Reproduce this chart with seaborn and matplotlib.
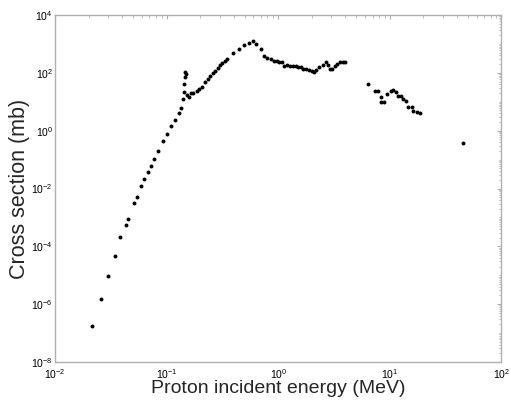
import numpy as np
import pandas as pd
import matplotlib
matplotlib.use("Agg")
import matplotlib.pyplot as plt
import seaborn as sns
from matplotlib.ticker import LogLocator, FixedLocator, NullFormatter, LogFormatterSciNotation

# Data (MeV, mb)
energy = [0.0216, 0.0258, 0.0300, 0.0343, 0.0385, 0.0430, 0.0451, 0.0510, 0.0543, 0.0592,
          0.0631, 0.0677, 0.0725, 0.0776, 0.0837, 0.0928, 0.1015, 0.1102, 0.1197, 0.1291,
          0.1354, 0.1388, 0.1423, 0.1441, 0.1462, 0.1483, 0.1462,
          0.1533, 0.1588, 0.1644, 0.1734, 0.1853, 0.1951, 0.2055, 0.2209, 0.2335, 0.2448,
          0.2588, 0.2715, 0.2871, 0.3010, 0.3155, 0.3337, 0.3499, 0.3960, 0.4454, 0.4968,
          0.5475, 0.5980, 0.6365, 0.6967, 0.7460, 0.7987, 0.8565, 0.9077, 0.9656, 1.017,
          1.075, 1.127, 1.187, 1.263, 1.349, 1.429, 1.514, 1.594, 1.679, 1.775, 1.877,
          1.988, 2.072, 2.182, 2.335, 2.505, 2.654, 2.766, 2.912, 3.053, 3.208, 3.385,
          3.579, 3.784, 3.928,
          6.42, 7.37, 7.89, 8.29, 8.29, 8.87, 9.50, 10.19, 10.57, 11.32, 11.85, 12.52,
          13.13, 13.91, 14.41, 15.71, 16.24, 17.42, 18.77, 45.6]
cross_section = [1.81e-7, 1.48e-6, 9.67e-6, 4.75e-5, 2.06e-4, 5.48e-4, 8.63e-4, 3.16e-3, 4.97e-3, 0.01253,
                 0.0205, 0.0364, 0.0615, 0.1074, 0.198, 0.440, 0.787, 1.486, 2.34, 4.19,
                 6.23, 11.97, 22.3, 41.1, 70.1, 87.6, 104.4,
                 17.1, 14.6, 19.3, 20.6, 23.6, 27.6, 33.2, 48.2, 61.2, 77.8,
                 96.4, 118.6, 150.6, 182.3, 213.8, 256.6, 294, 474, 667, 918,
                 1102, 1262, 994, 667, 391, 334, 296, 267, 247, 237,
                 243, 172.5, 179.5, 172.5, 176.6, 169.8, 163, 153, 141, 130.4, 122.4,
                 113, 106.9, 125.4, 155.5, 191, 228, 179.5, 135.8, 141, 172.5, 207,
                 231, 237, 228,
                 39.5, 24.1, 24.1, 14.26, 9.97, 9.97, 18.5, 23.0, 26.5, 22.3, 15.45, 15.5,
                 12.45, 10.88, 6.75, 6.75, 4.68, 4.43, 4.09, 0.369]

x_label = "Proton incident energy (MeV)"
y_label = "Cross section (mb)"
x_ticks = [1e-2, 1e-1, 1e0, 1e1, 1e2]
y_ticks = [1e-8, 1e-6, 1e-4, 1e-2, 1e0, 1e2, 1e4]

df = pd.DataFrame({"energy": energy, "xs": cross_section})

sns.set_style("white")
plt.rcParams["font.family"] = ["Liberation Sans", "DejaVu Sans"]
plt.rcParams["mathtext.fontset"] = "custom"
plt.rcParams["mathtext.rm"] = "Liberation Sans"
plt.rcParams["mathtext.it"] = "Liberation Sans:italic"
plt.rcParams["mathtext.bf"] = "Liberation Sans:bold"

fig = plt.figure(figsize=(5.11, 4.0), dpi=100)
ax = fig.add_axes([0.1076, 0.095, 0.8738, 0.8675])

sns.scatterplot(data=df, x="energy", y="xs", ax=ax, color="black", s=8,
                edgecolor="black", linewidth=0, legend=False)

ax.set_xscale("log")
ax.set_yscale("log")
ax.set_xlim(1e-2, 1e2)
ax.set_ylim(1e-8, 1e4)

ax.xaxis.set_major_locator(FixedLocator(x_ticks))
ax.yaxis.set_major_locator(FixedLocator(y_ticks))
ax.xaxis.set_minor_locator(LogLocator(base=10, subs=np.arange(2, 10), numticks=100))
ax.yaxis.set_minor_locator(LogLocator(base=10, subs=np.arange(1, 10), numticks=100))
ax.xaxis.set_minor_formatter(NullFormatter())
ax.yaxis.set_minor_formatter(NullFormatter())
ax.xaxis.set_major_formatter(LogFormatterSciNotation())
ax.yaxis.set_major_formatter(LogFormatterSciNotation())

grey = "#b0b0b0"
for sp in ax.spines.values():
    sp.set_color(grey)
    sp.set_linewidth(1.0)
    sp.set_visible(True)
ax.tick_params(which="both", direction="in", top=True, right=True, colors=grey,
               labelcolor="black", labelsize=7.5)
ax.tick_params(axis="x", which="major", length=3, width=0.8, pad=3.5)
ax.tick_params(axis="y", which="major", length=3, width=0.8, pad=1.5)
ax.tick_params(which="minor", length=1.8, width=0.6)

ax.set_xlabel(x_label, fontsize=14, labelpad=-0.5)
ax.set_ylabel(y_label, fontsize=15.5, labelpad=1)

fig.savefig("out.png", dpi=100)
